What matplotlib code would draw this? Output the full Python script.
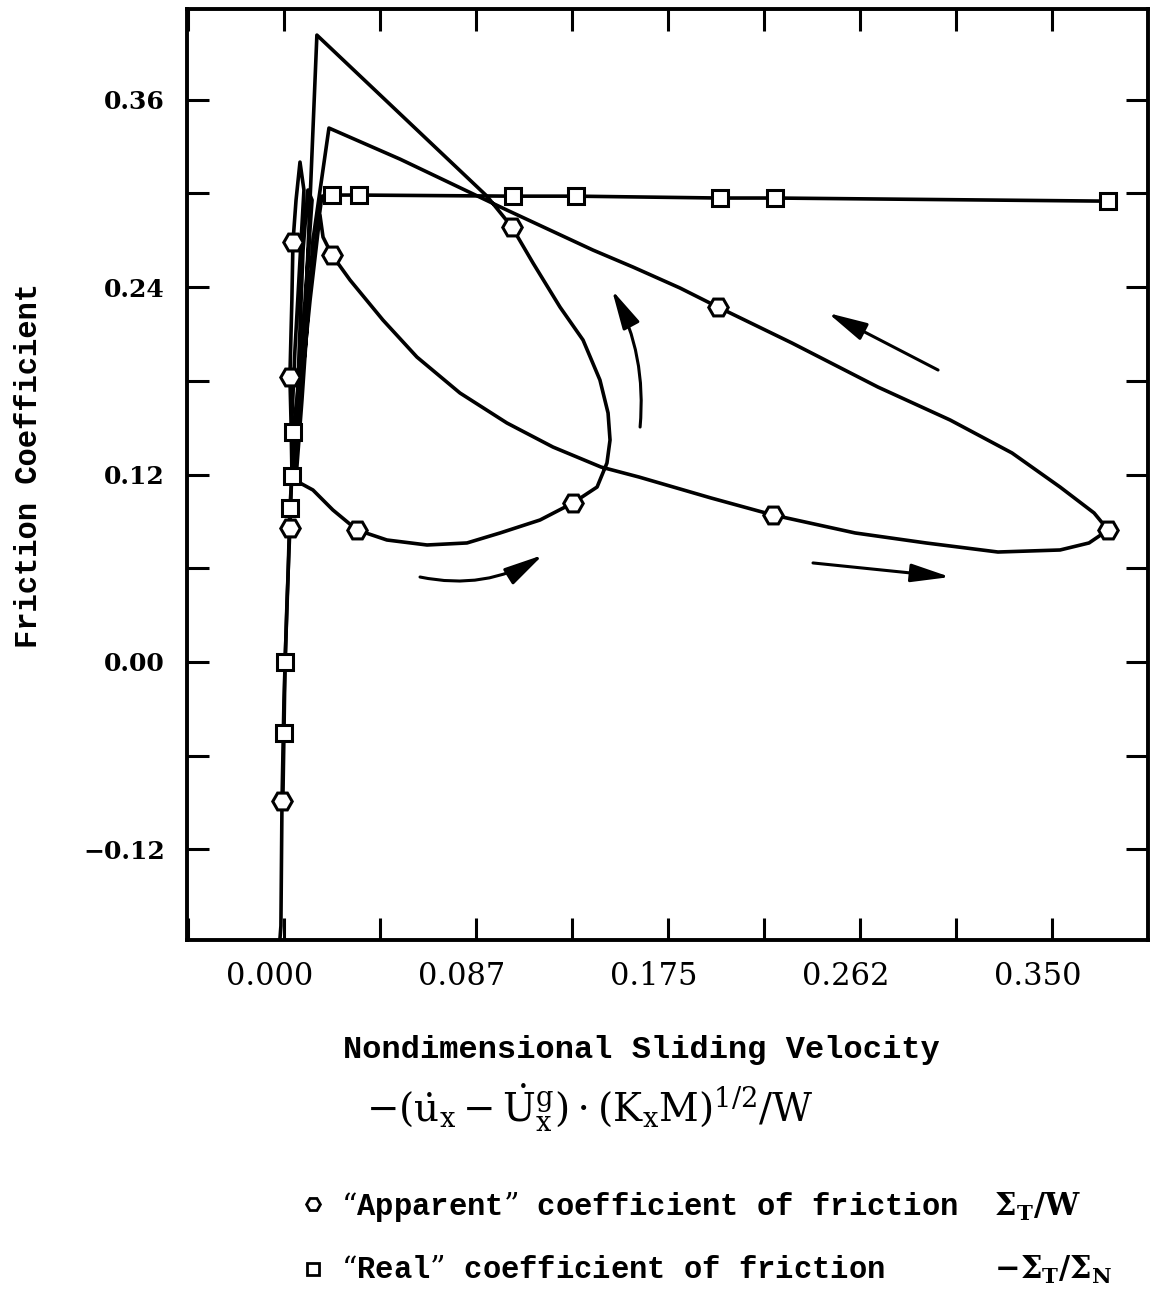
import matplotlib
matplotlib.use("Agg")
import matplotlib.pyplot as plt
from matplotlib.lines import Line2D
from matplotlib.transforms import ScaledTranslation

plt.rcParams['mathtext.fontset'] = 'dejavuserif'

# ---- data ----
# "apparent" coefficient (Sigma_T / W), line path through the stick-slip loops
app_x = [-0.0018, -0.0014, -0.0009, 0.0000, 0.0014, 0.0027, 0.0036, 0.0032, 0.0027, 0.0036,
         0.0041, 0.0055, 0.0073, 0.0091, 0.0073, 0.0050, 0.0036, 0.0046, 0.0064, 0.0087,
         0.0109, 0.0128, 0.0096, 0.0064, 0.0050, 0.0100, 0.0150,
         0.0925, 0.1039, 0.1135, 0.1258, 0.1363, 0.1440, 0.1477, 0.1486, 0.1472, 0.1427,
         0.1317, 0.1167, 0.0985, 0.0834, 0.0652, 0.0469, 0.0333, 0.0223, 0.0132, 0.0073,
         0.0055, 0.0082, 0.0132, 0.0205, 0.0529, 0.1016, 0.1212, 0.1408, 0.1591, 0.1805,
         0.1978, 0.2315, 0.2707, 0.3036, 0.3318, 0.3537, 0.3692, 0.3756, 0.3669, 0.3537,
         0.3254, 0.2926, 0.2603, 0.2229, 0.1946, 0.1618, 0.1445, 0.1226, 0.1016, 0.0802,
         0.0606, 0.0451, 0.0301, 0.0219, 0.0178, 0.0164, 0.0119, 0.0073, 0.0046]
app_y = [-0.1766, -0.1690, -0.0890, -0.0243, 0.0397, 0.0858, 0.1229, 0.1549, 0.1824, 0.2317,
         0.2688, 0.2957, 0.3200, 0.3021, 0.2573, 0.1997, 0.1549, 0.1229, 0.1805, 0.2637,
         0.3021, 0.2957, 0.2317, 0.1549, 0.1229, 0.2317, 0.4013,
         0.2982, 0.2784, 0.2554, 0.2272, 0.2061, 0.1805, 0.1594, 0.1421, 0.1274, 0.1120,
         0.1018, 0.0909, 0.0826, 0.0762, 0.0749, 0.0781, 0.0845, 0.0973, 0.1101, 0.1146,
         0.1178, 0.1677, 0.2701, 0.3418, 0.3219, 0.2893, 0.2765, 0.2637, 0.2528, 0.2394,
         0.2272, 0.2042, 0.1760, 0.1549, 0.1338, 0.1120, 0.0954, 0.0845, 0.0762, 0.0717,
         0.0704, 0.0762, 0.0826, 0.0941, 0.1050, 0.1184, 0.1248, 0.1376, 0.1530, 0.1722,
         0.1952, 0.2189, 0.2445, 0.2605, 0.2720, 0.2861, 0.2317, 0.1677, 0.1229]
app_marker_x = [-0.0009, 0.0027, 0.0027, 0.0041, 0.0219, 0.0333, 0.1317, 0.1039, 0.1978, 0.2229, 0.3756]
app_marker_y = [-0.0890, 0.0858, 0.1824, 0.2688, 0.2605, 0.0845, 0.1018, 0.2784, 0.2272, 0.0941, 0.0845]

# "real" coefficient (-Sigma_T / Sigma_N)
real_x = [-0.0005, 0.0000, 0.0005, 0.0018, 0.0027, 0.0036, 0.0041, 0.0096, 0.0146, 0.0173,
          0.0219, 0.0342, 0.1044, 0.1331, 0.1987, 0.2238, 0.3756]
real_y = [-0.0883, -0.0454, 0.0000, 0.0525, 0.0986, 0.1190, 0.1472, 0.2125, 0.2701, 0.2982,
          0.2989, 0.2989, 0.2982, 0.2982, 0.2970, 0.2970, 0.2950]
real_marker_x = [0.0000, 0.0005, 0.0027, 0.0036, 0.0041, 0.0219, 0.0342, 0.1044, 0.1331, 0.1987, 0.2238, 0.3756]
real_marker_y = [-0.0454, 0.0000, 0.0986, 0.1190, 0.1472, 0.2989, 0.2989, 0.2982, 0.2982, 0.2970, 0.2970, 0.2950]

xticks = [0.0, 0.0875, 0.175, 0.2625, 0.35]
xticklabels = ['0.000', '0.087', '0.175', '0.262', '0.350']
yticks = [-0.12, 0.0, 0.12, 0.24, 0.36]
yticklabels = ['\u22120.12', '0.00', '0.12', '0.24', '0.36']

mono = ['Liberation Mono', 'DejaVu Sans Mono']

fig = plt.figure(figsize=(11.5, 13.06), dpi=100)
ax = fig.add_axes([0.1626, 0.2802, 0.8357, 0.7129])

ax.plot(app_x, app_y, color='black', lw=2.6, solid_joinstyle='round')
ax.plot(real_x, real_y, color='black', lw=2.6, solid_joinstyle='round')
ax.plot(app_marker_x, app_marker_y, ls='none', marker='H', ms=14,
        mfc='white', mec='black', mew=2.2)
ax.plot(real_marker_x, real_marker_y, ls='none', marker='s', ms=12,
        mfc='white', mec='black', mew=2.2)

# direction arrows
arw = dict(arrowstyle='-|>,head_length=1.2,head_width=0.28', color='black', lw=2.2,
           mutation_scale=20, shrinkA=0, shrinkB=0)
ax.annotate('', xy=(0.1180, 0.0685), xytext=(0.0620, 0.0544),
            arrowprops=dict(arw, connectionstyle='arc3,rad=0.2'))
ax.annotate('', xy=(0.3036, 0.0544), xytext=(0.2411, 0.0634), arrowprops=arw)
ax.annotate('', xy=(0.1495, 0.2381), xytext=(0.1623, 0.1504),
            arrowprops=dict(arw, connectionstyle='arc3,rad=0.15'))
ax.annotate('', xy=(0.2479, 0.2234), xytext=(0.2981, 0.1869), arrowprops=arw)

ax.set_xlim(-0.0442, 0.3938)
ax.set_ylim(-0.178, 0.418)

ax.set_xticks(xticks)
ax.set_xticklabels(xticklabels, family='DejaVu Serif', fontsize=22)
ax.set_xticks([-0.04375, 0.04375, 0.13125, 0.21875, 0.30625], minor=True)
ax.set_yticks(yticks)
ax.set_yticklabels(yticklabels, family='DejaVu Serif', fontsize=18, weight='bold')
ax.set_yticks([-0.06, 0.06, 0.18, 0.30], minor=True)
ax.tick_params(which='both', direction='in', top=True, right=True,
               length=16, width=2.2)
ax.tick_params(axis='x', pad=15)
ax.tick_params(axis='y', pad=16)
for lab in ax.get_xticklabels():
    lab.set_transform(lab.get_transform() + ScaledTranslation(-0.14, 0, fig.dpi_scale_trans))
for s in ax.spines.values():
    s.set_linewidth(2.8)

ax.set_ylabel('Friction Coefficient', family=mono, weight='bold', fontsize=22)
ax.yaxis.set_label_coords(-0.1488, 0.51)
ax.set_xlabel('Nondimensional Sliding Velocity', family=mono, weight='bold',
              fontsize=23, va='center')
ax.xaxis.set_label_coords(0.4724, -0.118)

fig.text(0.513, 0.1516,
         r'$-(\dot{\mathrm{u}}_\mathrm{x}-\dot{\mathrm{U}}_\mathrm{x}^\mathrm{g})\cdot(\mathrm{K_xM})^{1/2}/\mathrm{W}$',
         fontsize=28, ha='center', va='center')

handles = [Line2D([], [], ls='none', marker='H', ms=10, mfc='white', mec='black', mew=2),
           Line2D([], [], ls='none', marker='s', ms=9, mfc='white', mec='black', mew=2)]
labels = ['\u201cApparent\u201d coefficient of friction  $\\mathbf{\\Sigma_T/W}$',
          '\u201cReal\u201d coefficient of friction      $\\mathbf{-\\Sigma_T/\\Sigma_N}$']
fig.legend(handles, labels, loc='center left', bbox_to_anchor=(0.238, 0.052),
           frameon=False, prop=dict(family=mono, weight='bold', size=22),
           handlelength=0.8, handletextpad=0.5, labelspacing=1.0)

fig.savefig('out.png', dpi=100)
